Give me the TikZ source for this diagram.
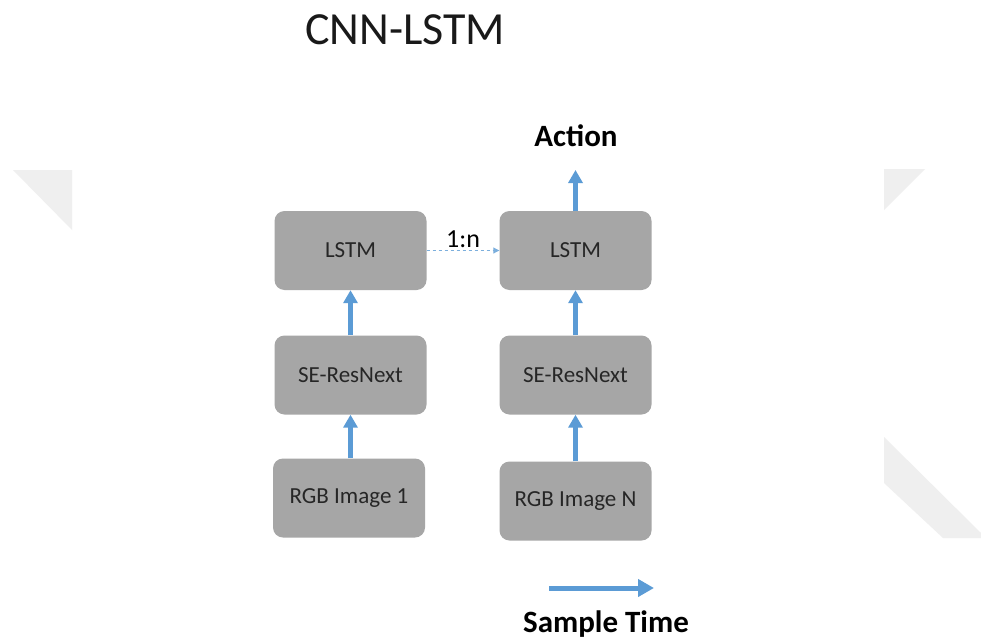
\documentclass[tikz,border=0pt]{standalone}
\usepackage{fontspec}
\setmainfont{Carlito}
\usetikzlibrary{arrows.meta}
\definecolor{boxgray}{HTML}{A6A6A6}
\definecolor{arrblue}{HTML}{5B9BD5}
\definecolor{bggray}{HTML}{EFEFEF}
\begin{document}
\begin{tikzpicture}[x=1pt,y=-1pt,
  block/.style={fill=boxgray, rounded corners=10pt, minimum width=152pt, minimum height=79pt, inner sep=0pt, text=black!85, font=\fontsize{23}{26}\selectfont},
  flow/.style={draw=arrblue, line width=5pt, -{Triangle[width=14pt,length=13pt]}},
  link/.style={draw=arrblue!80, line width=0.9pt, dashed, -{Triangle[width=6pt,length=6pt]}},
  lbl/.style={inner sep=0pt, font=\fontsize{31}{34}\selectfont\bfseries}]
\fill[white] (0,0) rectangle (981,639);
\useasboundingbox (0,0) rectangle (981,639);
% faint background shapes
\fill[bggray] (13,170) -- (72,170) -- (72,230) -- cycle;
\fill[bggray] (884,169) -- (925,169) -- (884,210) -- cycle;
\fill[bggray] (884,437) -- (981,533) -- (981,538) -- (943,538) -- (884,483) -- cycle;
% title
\node[inner sep=0pt, anchor=base, font=\fontsize{46}{50}\selectfont, text=black!90] (title) at (405,45) {CNN-LSTM};
% boxes
\node[block] (lstm1) at (350.5,250.5) {LSTM};
\node[block] (se1) at (350.5,375) {SE-ResNext};
\node[block] (rgb1) at (349,498) {RGB Image 1};
\node[block] (lstm2) at (575.5,250.5) {LSTM};
\node[block] (se2) at (575.5,375) {SE-ResNext};
\node[block] (rgb2) at (575.5,501) {RGB Image N};
% arrows
\draw[flow] (rgb1.north -| se1.south) -- (se1.south);
\draw[flow] (se1.north) -- (lstm1.south);
\draw[flow] (rgb2.north) -- (se2.south);
\draw[flow] (se2.north) -- (lstm2.south);
\coordinate (act) at (575.5,170);
\draw[flow] (lstm2.north) -- (act);
\node[lbl, anchor=base] (action) at (576,147) {Action};
\draw[link] (lstm1.east) -- (lstm2.west);
\node[inner sep=0pt, anchor=base, text=black, font=\fontsize{26}{28}\selectfont] (ratio) at (463,247) {1:n};
% sample time
\coordinate (st1) at (549,588);
\coordinate (st2) at (654,588);
\draw[draw=arrblue, line width=5pt, -{Triangle[width=17pt,length=16pt]}] (st1) -- (st2);
\node[lbl, anchor=base] (stime) at (606,632) {Sample Time};
\end{tikzpicture}
\end{document}
